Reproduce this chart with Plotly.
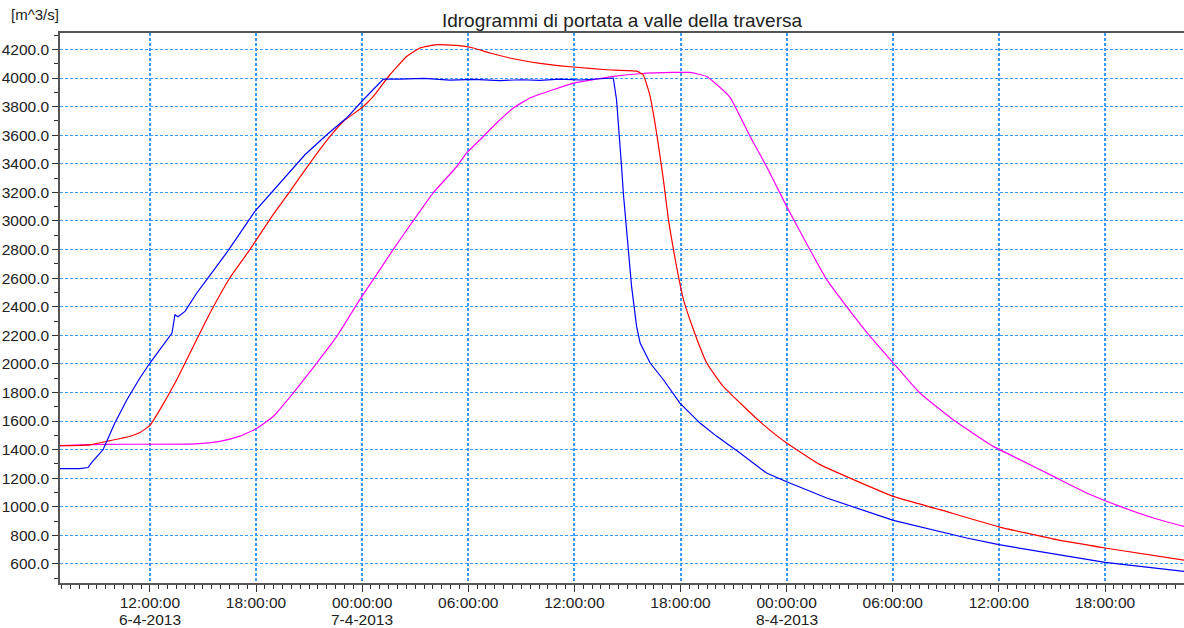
import plotly.graph_objects as go

# hydrographs downstream of the weir
blue_t = ["2013-04-06 06:55", "2013-04-06 08:03", "2013-04-06 08:30", "2013-04-06 08:43",
          "2013-04-06 09:21", "2013-04-06 10:01", "2013-04-06 10:42", "2013-04-06 11:26",
          "2013-04-06 12:00", "2013-04-06 12:34", "2013-04-06 13:15", "2013-04-06 13:25",
          "2013-04-06 13:35", "2013-04-06 13:59", "2013-04-06 14:39", "2013-04-06 15:13",
          "2013-04-06 16:26", "2013-04-06 17:56", "2013-04-06 19:10", "2013-04-06 20:46",
          "2013-04-06 22:00", "2013-04-06 23:07", "2013-04-07 00:04", "2013-04-07 01:12",
          "2013-04-07 02:08", "2013-04-07 03:30", "2013-04-07 04:58", "2013-04-07 06:20",
          "2013-04-07 07:47", "2013-04-07 09:00", "2013-04-07 10:03", "2013-04-07 11:10",
          "2013-04-07 12:19", "2013-04-07 13:15", "2013-04-07 14:12", "2013-04-07 14:23",
          "2013-04-07 14:35", "2013-04-07 14:40", "2013-04-07 14:46", "2013-04-07 14:55",
          "2013-04-07 15:03", "2013-04-07 15:14", "2013-04-07 15:31", "2013-04-07 15:43",
          "2013-04-07 16:17", "2013-04-07 17:02", "2013-04-07 17:58", "2013-04-07 19:06",
          "2013-04-07 20:03", "2013-04-07 21:22", "2013-04-07 22:52", "2013-04-08 00:00",
          "2013-04-08 02:16", "2013-04-08 06:02", "2013-04-08 10:11", "2013-04-08 12:00",
          "2013-04-08 18:00", "2013-04-08 22:28"]
blue_q = [1267, 1267, 1275, 1311,
          1400, 1586, 1749, 1901,
          2006, 2099, 2216, 2344,
          2330, 2367, 2496, 2589,
          2794, 3067, 3242, 3463,
          3603, 3720, 3848, 3993,
          3992, 3998, 3985, 3990,
          3982, 3988, 3984, 3992,
          3986, 3995, 4000, 3848,
          3545, 3381, 3196, 3009,
          2799, 2542, 2262, 2146,
          2006, 1889, 1726, 1586,
          1493, 1376, 1236, 1175,
          1062, 905, 782, 735,
          611, 548]

red_t = ["2013-04-06 06:55", "2013-04-06 08:36", "2013-04-06 09:44", "2013-04-06 10:50",
         "2013-04-06 11:26", "2013-04-06 12:00", "2013-04-06 12:34", "2013-04-06 13:31",
         "2013-04-06 14:27", "2013-04-06 15:24", "2013-04-06 16:31", "2013-04-06 17:39",
         "2013-04-06 18:58", "2013-04-06 19:55", "2013-04-06 21:03", "2013-04-06 22:11",
         "2013-04-06 22:56", "2013-04-07 00:04", "2013-04-07 00:38", "2013-04-07 01:34",
         "2013-04-07 02:31", "2013-04-07 03:16", "2013-04-07 04:13", "2013-04-07 05:21",
         "2013-04-07 06:17", "2013-04-07 07:14", "2013-04-07 08:33", "2013-04-07 10:03",
         "2013-04-07 11:56", "2013-04-07 13:49", "2013-04-07 15:31", "2013-04-07 15:53",
         "2013-04-07 16:16", "2013-04-07 16:33", "2013-04-07 16:44", "2013-04-07 17:02",
         "2013-04-07 17:19", "2013-04-07 17:36", "2013-04-07 17:53", "2013-04-07 18:10",
         "2013-04-07 18:44", "2013-04-07 19:29", "2013-04-07 20:25", "2013-04-07 21:22",
         "2013-04-07 22:41", "2013-04-08 00:00", "2013-04-08 01:53", "2013-04-08 03:35",
         "2013-04-08 06:02", "2013-04-08 08:40", "2013-04-08 12:00", "2013-04-08 15:16",
         "2013-04-08 18:00", "2013-04-08 22:28"]
red_q = [1428, 1434, 1463, 1492,
         1520, 1570, 1680, 1889,
         2122, 2356, 2601, 2799,
         3044, 3207, 3405, 3591,
         3696, 3801, 3871, 4023,
         4151, 4210, 4233, 4228,
         4210, 4175, 4135, 4103,
         4077, 4058, 4048, 4023,
         3880, 3690, 3545, 3288,
         3009, 2799, 2612, 2449,
         2239, 2006, 1842, 1726,
         1575, 1446, 1295, 1201,
         1073, 980, 860, 770,
         712, 627]

magenta_t = ["2013-04-06 06:55", "2013-04-06 09:10", "2013-04-06 14:33", "2013-04-06 15:57",
             "2013-04-06 17:05", "2013-04-06 18:02", "2013-04-06 18:58", "2013-04-06 20:06",
             "2013-04-06 21:26", "2013-04-06 22:34", "2013-04-06 23:52", "2013-04-07 00:49",
             "2013-04-07 01:45", "2013-04-07 02:53", "2013-04-07 04:01", "2013-04-07 05:21",
             "2013-04-07 05:54", "2013-04-07 06:51", "2013-04-07 07:36", "2013-04-07 08:33",
             "2013-04-07 09:29", "2013-04-07 10:48", "2013-04-07 12:08", "2013-04-07 13:16",
             "2013-04-07 14:12", "2013-04-07 15:43", "2013-04-07 17:35", "2013-04-07 18:32",
             "2013-04-07 19:29", "2013-04-07 19:51", "2013-04-07 20:48", "2013-04-07 21:56",
             "2013-04-07 22:52", "2013-04-08 00:00", "2013-04-08 01:19", "2013-04-08 02:16",
             "2013-04-08 03:23", "2013-04-08 04:43", "2013-04-08 06:02", "2013-04-08 07:32",
             "2013-04-08 09:25", "2013-04-08 11:41", "2013-04-08 13:11", "2013-04-08 15:05",
             "2013-04-08 16:58", "2013-04-08 18:51", "2013-04-08 20:44", "2013-04-08 22:28"]
magenta_q = [1428, 1437, 1440, 1458,
             1495, 1548, 1632, 1796,
             2006, 2192, 2450, 2625,
             2799, 3000, 3196, 3381,
             3475, 3591, 3685, 3790,
             3860, 3918, 3969, 3993,
             4011, 4030, 4039, 4039,
             4011, 3976, 3865, 3591,
             3381, 3102, 2799, 2589,
             2402, 2192, 2006, 1796,
             1609, 1423, 1330, 1213,
             1097, 1003, 922, 863]

tick_vals = ["2013-04-06 12:00", "2013-04-06 18:00", "2013-04-07 00:00", "2013-04-07 06:00",
             "2013-04-07 12:00", "2013-04-07 18:00", "2013-04-08 00:00", "2013-04-08 06:00",
             "2013-04-08 12:00", "2013-04-08 18:00"]
tick_text = ["12:00:00", "18:00:00", "00:00:00", "06:00:00",
             "12:00:00", "18:00:00", "00:00:00", "06:00:00",
             "12:00:00", "18:00:00"]
date_vals = ["2013-04-06 12:00", "2013-04-07 00:00", "2013-04-08 00:00"]
date_text = ["6-4-2013", "7-4-2013", "8-4-2013"]

grid_col = "#3d9bff"
font_name = "Liberation Sans, Arial, sans-serif"
txt_col = "#222222"

fig = go.Figure()
fig.add_trace(go.Scatter(x=magenta_t, y=magenta_q, mode="lines",
                         line=dict(color="#ff00ff", width=1.2, shape="spline", smoothing=0.4),
                         name="magenta"))
fig.add_trace(go.Scatter(x=red_t, y=red_q, mode="lines",
                         line=dict(color="#ff0000", width=1.2, shape="spline", smoothing=0.4),
                         name="red"))
fig.add_trace(go.Scatter(x=blue_t, y=blue_q, mode="lines",
                         line=dict(color="#0000ff", width=1.2), name="blue"))

fig.update_layout(
    width=1184, height=628,
    margin=dict(l=60, r=0, t=33, b=45),
    paper_bgcolor="white", plot_bgcolor="white",
    showlegend=False,
    font=dict(family=font_name, size=15.5, color=txt_col),
    title=dict(text="Idrogrammi di portata a valle della traversa",
               xref="paper", x=0.5, xanchor="center", y=1 - 20 / 628, yanchor="middle",
               font=dict(family=font_name, size=19, color=txt_col)),
)

fig.update_xaxes(
    type="date",
    range=["2013-04-06 06:55", "2013-04-08 22:28"],
    tickvals=tick_vals, ticktext=tick_text,
    ticks="outside", ticklen=7, tickcolor="#333333",
    ticklabelstandoff=-3,
    showline=True, linecolor="#555555", linewidth=2, mirror=True,
    showgrid=True, gridcolor=grid_col, gridwidth=1.5, griddash="3px,2px",
    minor=dict(dtick=30 * 60 * 1000, ticks="outside", ticklen=4, tickcolor="#333333",
               showgrid=False),
    zeroline=False, automargin=False,
)

fig.update_yaxes(
    range=[467, 4315],
    tick0=0, dtick=200, tickformat=".1f",
    ticks="outside", ticklen=6, tickcolor="#333333",
    showline=True, linecolor="#555555", linewidth=1.5,
    showgrid=True, gridcolor=grid_col, gridwidth=1, griddash="3px,2px",
    minor=dict(dtick=100, ticks="outside", ticklen=4, tickcolor="#333333",
               showgrid=False),
    zeroline=False, automargin=False,
)

# second row of the time axis: the date under each midnight (and the first tick)
for d, s in zip(date_vals, date_text):
    fig.add_annotation(text=s, x=d, xref="x", y=-(619 - 583) / 550, yref="paper",
                       xanchor="center", yanchor="middle", showarrow=False,
                       font=dict(family=font_name, size=15.5, color=txt_col))

fig.add_annotation(text="[m^3/s]", xref="paper", yref="paper",
                   x=-0.045, y=1.033, xanchor="left", yanchor="middle",
                   showarrow=False, font=dict(family=font_name, size=15, color=txt_col))

# the page body has an 8px default margin, drop it so the figure sits at 0,0
fig.write_html("out.html", config={"displayModeBar": False},
               post_script="document.body.style.margin='0';")
